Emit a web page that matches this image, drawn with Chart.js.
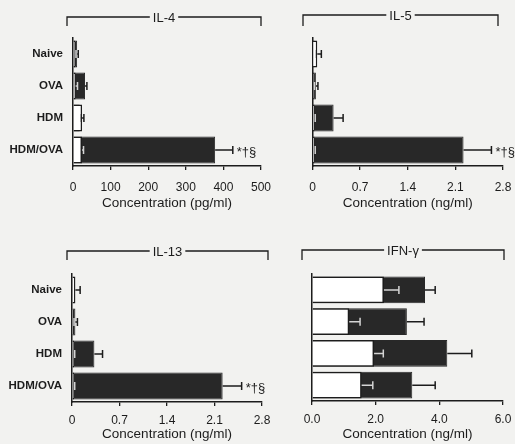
<!DOCTYPE html>
<html><head><meta charset="utf-8">
<script src="https://cdn.jsdelivr.net/npm/chart.js@4.4.1/dist/chart.umd.min.js"></script>
<style>
html,body{margin:0;padding:0;background:#f2f2f0;}
#wrap{position:relative;width:515px;height:444px;overflow:hidden;}
canvas{position:absolute;left:0;top:0;}
</style></head><body><div id="wrap">
<canvas id="c1" width="515" height="444"></canvas>
<canvas id="c2" width="515" height="444"></canvas>
<canvas id="c3" width="515" height="444"></canvas>
<canvas id="c4" width="515" height="444"></canvas>
</div>
<script>
// ---- data ----
const categories = ['Naive', 'OVA', 'HDM', 'HDM/OVA'];
const panelTitles = ['IL-4', 'IL-5', 'IL-13', 'IFN-γ'];
const axisTitles = ['Concentration (pg/ml)', 'Concentration (ng/ml)', 'Concentration (ng/ml)', 'Concentration (ng/ml)'];

const il4White = [6, 7, 24, 24];
const il4WhiteErr = [2, 5, 5, 4];
const il4Black = [11, 32, 18, 378];
const il4BlackErr = [3, 5, 3, 47];

const il5White = [0.07, 0.02, 0.03, 0.03];
const il5WhiteErr = [0.06, 0.01, 0.01, 0.01];
const il5Black = [0.03, 0.05, 0.31, 2.22];
const il5BlackErr = [0.01, 0.03, 0.14, 0.41];

const il13White = [0.05, 0.02, 0.03, 0.03];
const il13WhiteErr = [0.07, 0.01, 0.01, 0.01];
const il13Black = [0.02, 0.05, 0.33, 2.22];
const il13BlackErr = [0.01, 0.03, 0.12, 0.28];

const ifnWhite = [2.26, 1.17, 1.95, 1.56];
const ifnWhiteErr = [0.47, 0.34, 0.29, 0.35];
const ifnBlack = [3.55, 2.98, 4.25, 3.15];
const ifnBlackErr = [0.32, 0.54, 0.77, 0.72];

const pgTicks = [0, 100, 200, 300, 400, 500];
const pgTickLabels = ['0', '100', '200', '300', '400', '500'];
const ngTicks = [0, 0.7, 1.4, 2.1, 2.8];
const ngTickLabels = ['0', '0.7', '1.4', '2.1', '2.8'];
const ifnTicks = [0, 2, 4, 6];
const ifnTickLabels = ['0.0', '2.0', '4.0', '6.0'];

const sigIL4 = ['', '', '', '*†§'];
const sigIL5 = ['', '', '', '*†§'];
const sigIL13 = ['', '', '', '*†§'];
const sigIFN = ['', '', '', ''];

// ---- styling ----
const INK = '#1c1c1c';
const BLACKBAR = '#282828';
const FONT = "'Liberation Sans', Arial, sans-serif";

const errPlugin = {
  id: 'errs',
  afterDatasetDraw(chart, args) {
    const p = chart.options.plugins.errs;
    const xs = chart.scales.x;
    const ctx = chart.ctx;
    const isBlack = args.index === 1;
    const vals = isBlack ? p.black : p.white;
    const errs = isBlack ? p.blackErr : p.whiteErr;
    ctx.save();
    ctx.lineWidth = 1.5;
    args.meta.data.forEach((bar, i) => {
      const v = vals[i], e = errs[i];
      const x0 = xs.getPixelForValue(v), x1 = xs.getPixelForValue(v + e);
      const y = bar.y;
      let col = INK;
      if (!isBlack && v + e <= p.black[i]) col = '#d4d4d4';
      ctx.strokeStyle = col;
      ctx.beginPath();
      ctx.moveTo(x0, y); ctx.lineTo(x1, y);
      ctx.moveTo(x1, y - 4); ctx.lineTo(x1, y + 4);
      ctx.stroke();
    });
    if (!isBlack) {
      ctx.fillStyle = INK;
      ctx.font = '13px ' + FONT;
      ctx.textBaseline = 'middle';
      ctx.textAlign = 'left';
      args.meta.data.forEach((bar, i) => {
        if (!p.sig[i]) return;
        const xe = xs.getPixelForValue(Math.max(p.black[i] + p.blackErr[i], p.white[i] + p.whiteErr[i]));
        ctx.fillText(p.sig[i], xe + 4, bar.y + 2);
      });
    }
    ctx.restore();
  }
};

const bracketPlugin = {
  id: 'bracket',
  afterDraw(chart) {
    const b = chart.options.plugins.bracket;
    const ctx = chart.ctx;
    ctx.save();
    ctx.font = '13px ' + FONT;
    const mid = (b.l + b.r) / 2;
    const w = ctx.measureText(b.text).width;
    ctx.strokeStyle = INK; ctx.lineWidth = 1.3;
    ctx.beginPath();
    ctx.moveTo(b.l, b.tb); ctx.lineTo(b.l, b.y); ctx.lineTo(mid - w / 2 - 3, b.y);
    ctx.moveTo(mid + w / 2 + 3, b.y); ctx.lineTo(b.r, b.y); ctx.lineTo(b.r, b.tb);
    ctx.stroke();
    ctx.fillStyle = INK; ctx.textAlign = 'center'; ctx.textBaseline = 'middle';
    ctx.fillText(b.text, mid, b.y + 1);
    ctx.restore();
  }
};

function makePanel(id, cfg) {
  const Y_W = cfg.area.left;
  const xHeight = cfg.titleBottom - cfg.area.bottom;
  new Chart(document.getElementById(id), {
    type: 'bar',
    data: {
      labels: categories,
      datasets: [
        { data: cfg.white, backgroundColor: '#ffffff', borderColor: INK, borderWidth: 1.5,
          barPercentage: 0.85, categoryPercentage: 1, grouped: false },
        { data: cfg.black, backgroundColor: BLACKBAR, borderColor: BLACKBAR, borderWidth: 1,
          barPercentage: 0.85, categoryPercentage: 1, grouped: false }
      ]
    },
    options: {
      indexAxis: 'y',
      responsive: false,
      animation: false,
      devicePixelRatio: 1,
      layout: { padding: { left: 0, right: 515 - cfg.area.right, top: cfg.area.top, bottom: 444 - cfg.titleBottom } },
      plugins: {
        legend: { display: false }, tooltip: { enabled: false },
        errs: { white: cfg.white, whiteErr: cfg.whiteErr, black: cfg.black, blackErr: cfg.blackErr, sig: cfg.sig },
        bracket: cfg.bracket
      },
      scales: {
        x: {
          min: cfg.ticks[0], max: cfg.ticks[cfg.ticks.length - 1],
          afterBuildTicks: s => { s.ticks = cfg.ticks.map(v => ({ value: v })); },
          afterFit: s => { s.height = xHeight; s.paddingLeft = 0; s.paddingRight = 0; },
          grid: { display: true, drawOnChartArea: false, drawTicks: true, tickLength: 4, color: INK, lineWidth: 1.3 },
          border: { display: true, color: INK, width: 1.5 },
          ticks: { color: INK, font: { family: FONT, size: 12 }, padding: cfg.tickPad, maxRotation: 0, autoSkip: false,
                   callback: (v, i) => cfg.tickLabels[i] },
          title: { display: true, text: cfg.axisTitle, color: INK, font: { family: FONT, size: 13.5 }, padding: 0 }
        },
        y: {
          afterFit: s => { s.width = Y_W; s.paddingTop = 0; s.paddingBottom = 0; },
          grid: { display: true, drawOnChartArea: false, drawTicks: false },
          border: { display: true, color: INK, width: 1.5 },
          ticks: { display: cfg.showY, color: INK, font: { family: FONT, size: 11.5, weight: 'bold' }, padding: 10 }
        }
      }
    },
    plugins: [errPlugin, bracketPlugin]
  });
}

makePanel('c1', {
  white: il4White, whiteErr: il4WhiteErr, black: il4Black, blackErr: il4BlackErr, sig: sigIL4,
  ticks: pgTicks, tickLabels: pgTickLabels, axisTitle: axisTitles[0], showY: true,
  area: { left: 73, right: 261, top: 38, bottom: 166 }, titleBottom: 211, tickPad: 10,
  bracket: { text: panelTitles[0], y: 17, l: 67, r: 261, tb: 26 }
});
makePanel('c2', {
  white: il5White, whiteErr: il5WhiteErr, black: il5Black, blackErr: il5BlackErr, sig: sigIL5,
  ticks: ngTicks, tickLabels: ngTickLabels, axisTitle: axisTitles[1], showY: false,
  area: { left: 312.5, right: 503, top: 38, bottom: 166 }, titleBottom: 211, tickPad: 10,
  bracket: { text: panelTitles[1], y: 15, l: 303, r: 498, tb: 26 }
});
makePanel('c3', {
  white: il13White, whiteErr: il13WhiteErr, black: il13Black, blackErr: il13BlackErr, sig: sigIL13,
  ticks: ngTicks, tickLabels: ngTickLabels, axisTitle: axisTitles[2], showY: true,
  area: { left: 72, right: 262, top: 274, bottom: 402 }, titleBottom: 442, tickPad: 7,
  bracket: { text: panelTitles[2], y: 251, l: 67, r: 268, tb: 260 }
});
makePanel('c4', {
  white: ifnWhite, whiteErr: ifnWhiteErr, black: ifnBlack, blackErr: ifnBlackErr, sig: sigIFN,
  ticks: ifnTicks, tickLabels: ifnTickLabels, axisTitle: axisTitles[3], showY: false,
  area: { left: 312, right: 503, top: 274, bottom: 401 }, titleBottom: 442, tickPad: 7,
  bracket: { text: panelTitles[3], y: 250, l: 302, r: 504, tb: 260 }
});
</script>
</body></html>
